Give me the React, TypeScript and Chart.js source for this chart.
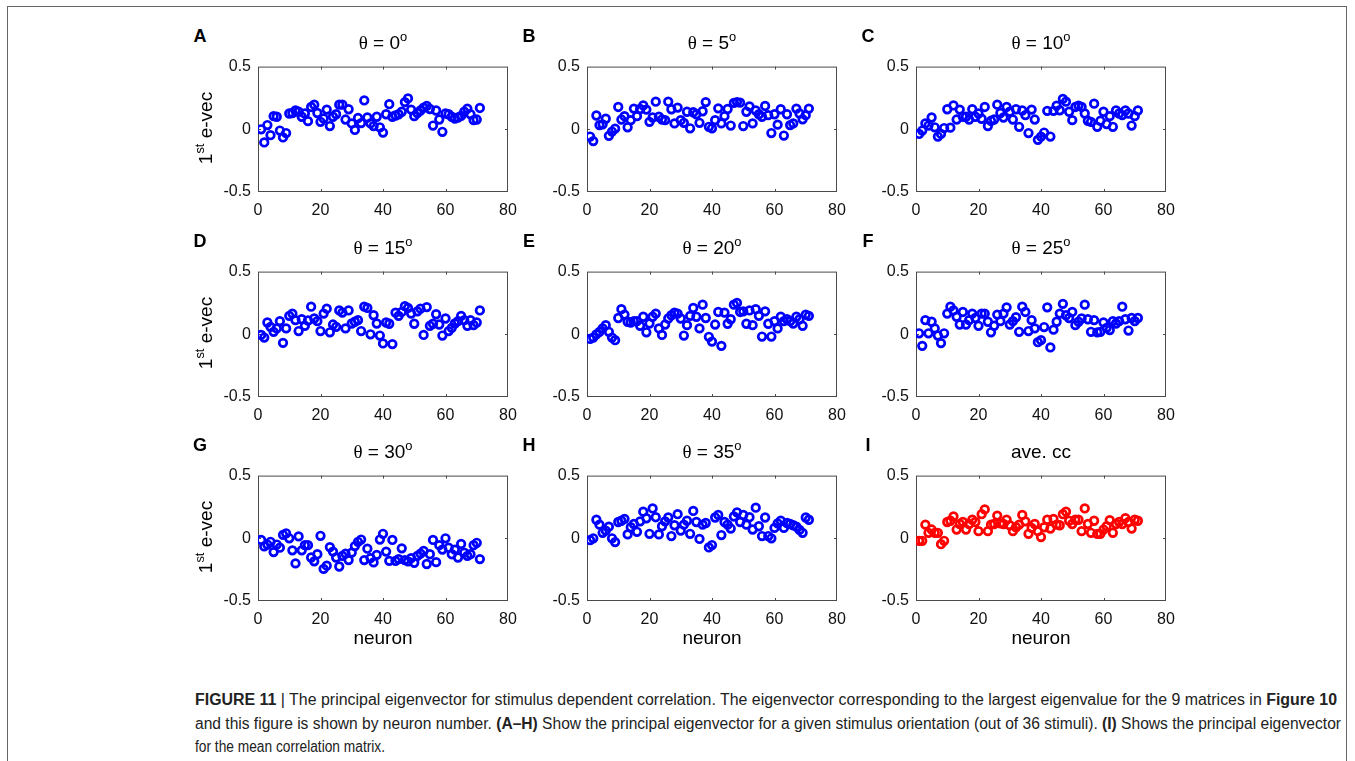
import React, { useEffect, useRef } from 'react';
import { Chart, registerables } from 'chart.js';

Chart.register(...registerables);

// ---- data -------------------------------------------------------------
const NEURONS = Array.from({ length: 71 }, (_, i) => i + 1);
const X_TICKS = [0, 20, 40, 60, 80];
const Y_TICKS = [-0.5, 0, 0.5];

const EVEC_THETA_0 = [
  0, -0.105, 0.034, -0.047, 0.105, 0.1, -0.01, -0.065, -0.03, 0.126,
  0.13, 0.15, 0.14, 0.1, 0.126, 0.065, 0.178, 0.196, 0.13, 0.06,
  0.086, 0.157, 0.026, 0.1, 0.12, 0.196, 0.196, 0.078, 0.16, 0.047,
  -0.005, 0.09, 0.05, 0.23, 0.094, 0.047, 0.026, 0.1, 0.016, -0.026,
  0.12, 0.2, 0.1, 0.11, 0.12, 0.14, 0.217, 0.246, 0.157, 0.105,
  0.13, 0.15, 0.173, 0.186, 0.162, 0.03, 0.15, 0.078, -0.02, 0.126,
  0.12, 0.1, 0.086, 0.094, 0.107, 0.14, 0.165, 0.12, 0.073, 0.078,
  0.17,
];
const EVEC_THETA_5 = [
  -0.058, -0.094, 0.11, 0.034, 0.04, 0.084, -0.052, -0.018, 0.005, 0.178,
  0.078, 0.105, 0.016, 0.073, 0.165, 0.105, 0.162, 0.19, 0.157, 0.06,
  0.094, 0.22, 0.1, 0.078, 0.073, 0.22, 0.16, 0.047, 0.173, 0.073,
  0.052, 0.14, 0.008, 0.136, 0.12, 0.052, 0.144, 0.217, 0.02, 0.008,
  0.073, 0.167, 0.047, 0.105, 0.162, 0.03, 0.21, 0.217, 0.212, 0.026,
  0.14, 0.183, 0.047, 0.15, 0.12, 0.1, 0.186, 0.113, -0.03, 0.12,
  0.037, 0.16, -0.05, 0.12, 0.034, 0.047, 0.165, 0.126, 0.08, 0.113,
  0.165,
];
const EVEC_THETA_10 = [
  -0.037, -0.01, 0.047, 0.03, 0.094, 0.016, -0.058, -0.037, 0.01, 0.16,
  0.013, 0.19, 0.078, 0.157, 0.1, 0.1, 0.078, 0.16, 0.1, 0.126,
  0.084, 0.178, 0.026, 0.068, 0.078, 0.196, 0.13, 0.094, 0.178, 0.14,
  0.078, 0.16, 0.02, 0.15, 0.113, -0.03, 0.157, 0.078, -0.084, -0.058,
  -0.026, 0.147, -0.058, 0.147, 0.188, 0.152, 0.243, 0.22, 0.14, 0.073,
  0.178, 0.188, 0.178, 0.126, 0.068, 0.06, 0.204, 0.02, 0.068, 0.14,
  0.042, 0.105, 0.02, 0.15, 0.126, 0.113, 0.15, 0.126, 0.03, 0.105,
  0.15,
];
const EVEC_THETA_15 = [
  -0.005, -0.026, 0.094, 0.06, 0.02, 0.047, 0.105, -0.068, 0.047, 0.147,
  0.165, 0.113, 0.026, 0.12, 0.068, 0.11, 0.22, 0.126, 0.105, 0.026,
  0.165, 0.204, 0.016, 0.078, 0.06, 0.19, 0.173, 0.047, 0.19, 0.086,
  0.1, 0.113, 0.026, 0.22, 0.21, 0, 0.152, 0.086, -0.01, -0.073,
  0.094, 0.084, -0.078, 0.173, 0.147, 0.178, 0.225, 0.21, 0.165, 0.084,
  0.183, 0.204, -0.005, 0.217, 0.068, 0.084, 0.16, 0.078, -0.01, 0.126,
  0.026, 0.052, 0.086, 0.105, 0.147, 0.113, 0.068, 0.113, 0.073, 0.094,
  0.19,
];
const EVEC_THETA_20 = [
  -0.037, -0.026, 0, 0.02, 0.047, 0.073, 0.02, -0.026, -0.047, 0.13,
  0.2, 0.157, 0.1, 0.094, 0.105, 0.105, 0.068, 0.14, 0.016, 0.086,
  0.14, 0.165, 0.047, -0.005, 0.078, 0.126, 0.152, 0.173, 0.165, 0.126,
  -0.01, 0.073, 0.147, 0.21, 0.14, 0.047, 0.236, 0.13, -0.02, -0.058,
  0.078, 0.178, -0.092, 0.173, 0.084, 0.12, 0.236, 0.25, 0.178, 0.183,
  0.084, 0.19, 0.073, 0.2, 0.147, -0.018, 0.183, 0.084, -0.018, 0.105,
  0.047, 0.14, 0.105, 0.12, 0.105, 0.086, 0.14, 0.12, 0.068, 0.157,
  0.147,
];
const EVEC_THETA_25 = [
  0.008, -0.092, 0.113, 0.008, 0.1, 0.047, -0.01, -0.07, 0.008, 0.165,
  0.22, 0.19, 0.14, 0.078, 0.178, 0.078, 0.113, 0.165, 0.13, 0.068,
  0.165, 0.165, 0.1, 0.016, 0.068, 0.157, 0.105, 0.165, 0.215, 0.078,
  0.105, 0.136, 0.02, 0.22, 0.178, 0.026, 0.113, 0.047, -0.063, -0.047,
  0.058, 0.215, -0.105, 0.037, 0.1, 0.165, 0.243, 0.152, 0.13, 0.178,
  0.073, 0.1, 0.126, 0.236, 0.12, 0.02, 0.113, 0.016, 0.02, 0.094,
  0.052, 0.034, 0.105, 0.086, 0.105, 0.22, 0.12, 0.03, 0.13, 0.105,
  0.13,
];
const EVEC_THETA_30 = [
  -0.013, -0.065, -0.05, -0.028, -0.11, -0.05, -0.075, 0.028, 0.04, 0,
  -0.096, -0.2, 0.015, -0.096, -0.055, -0.055, -0.153, -0.184, -0.127, 0.02,
  -0.244, -0.218, -0.07, -0.106, -0.153, -0.225, -0.14, -0.122, -0.174, -0.114,
  -0.062, -0.028, -0.01, -0.174, -0.083, -0.158, -0.192, -0.132, -0.01, 0.036,
  -0.106, -0.18, -0.013, -0.18, -0.166, -0.08, -0.174, -0.184, -0.158, -0.195,
  -0.14, -0.122, -0.1, -0.205, -0.127, -0.013, -0.19, -0.055, -0.09, 0,
  -0.075, -0.127, -0.09, -0.153, -0.045, -0.114, -0.14, -0.127, -0.055, -0.036,
  -0.166,
];
const EVEC_THETA_35 = [
  -0.015, 0, 0.148, 0.109, 0.044, 0.062, 0.093, 0, -0.03, 0.13,
  0.14, 0.155, 0.031, 0.088, 0.114, 0.052, 0.135, 0.212, 0.16, 0.036,
  0.238, 0.168, 0.031, 0.096, 0.135, 0.166, 0.018, 0.104, 0.192, 0.062,
  0.109, 0.14, 0.036, 0.218, 0.13, -0.005, 0.109, 0.122, -0.073, -0.054,
  0.166, 0.186, 0.026, 0.13, 0.109, 0.078, 0.174, 0.207, 0.13, 0.186,
  0.109, 0.168, 0.07, 0.244, 0.096, 0.018, 0.166, 0.018, 0, 0.083,
  0.119, 0.14, 0.083, 0.122, 0.114, 0.104, 0.093, 0.067, 0.044, 0.166,
  0.148,
];
const EVEC_MEAN_CC = [
  -0.02, -0.02, 0.109, 0.044, 0.07, 0.044, 0.044, -0.047, -0.02, 0.13,
  0.14, 0.174, 0.07, 0.114, 0.13, 0.07, 0.114, 0.148, 0.13, 0.057,
  0.192, 0.23, 0.057, 0.109, 0.114, 0.181, 0.119, 0.114, 0.148, 0.104,
  0.057, 0.088, 0.109, 0.186, 0.135, 0.036, 0.083, 0.114, 0.057, 0.01,
  0.088, 0.148, 0.078, 0.155, 0.109, 0.104, 0.192, 0.212, 0.14, 0.114,
  0.148, 0.148, 0.057, 0.238, 0.114, 0.044, 0.14, 0.036, 0.036, 0.07,
  0.096, 0.145, 0.044, 0.114, 0.13, 0.114, 0.161, 0.13, 0.078, 0.148,
  0.14,
];

const PANEL_LETTERS = ['A', 'B', 'C', 'D', 'E', 'F', 'G', 'H', 'I'];
const ORIENTATIONS = [0, 5, 10, 15, 20, 25, 30, 35];
const MEAN_TITLE = 'ave. cc';
const Y_LABEL_MAIN = '1';
const Y_LABEL_SUP = 'st';
const Y_LABEL_REST = ' e-vec';
const X_LABEL = 'neuron';

const PANEL_SERIES = [
  EVEC_THETA_0, EVEC_THETA_5, EVEC_THETA_10,
  EVEC_THETA_15, EVEC_THETA_20, EVEC_THETA_25,
  EVEC_THETA_30, EVEC_THETA_35, EVEC_MEAN_CC,
];

// ---- layout / style ---------------------------------------------------
const SANS = '"Liberation Sans", Arial, Helvetica, sans-serif';
const SERIF = '"Liberation Serif", "Times New Roman", serif';
const BLUE = '#0000ff';
const RED = '#ff0000';
const AXIS_COLOR = '#4a4a4a';

const COL_LEFT = [258, 587, 916];
const ROW_TOP = [64, 269, 473];
const LETTER_X = [200, 529, 868];
const PLOT_W = 250;
const PLOT_H = 128;
const PAD_L = 60;
const PAD_T = 14;
const PAD_R = 18;
const PAD_B = 30;
const CW = PLOT_W + PAD_L + PAD_R;
const CH = PLOT_H + PAD_T + PAD_B;
const TICK_LEN = 3;

// Box around the axes with inward tick marks on all four sides.
const boxPlugin = {
  id: 'boxAxes',
  beforeDatasetsDraw(chart: any) {
    const { ctx, chartArea: a, scales } = chart;
    const xs = scales.x;
    const ys = scales.y;
    ctx.save();
    ctx.strokeStyle = AXIS_COLOR;
    ctx.lineWidth = 1;
    ctx.strokeRect(a.left + 0.5, a.top + 0.5, a.right - a.left - 1, a.bottom - a.top - 1);
    ctx.beginPath();
    for (const t of xs.ticks) {
      if (t.value <= xs.min || t.value >= xs.max) continue;
      const px = Math.round(xs.getPixelForValue(t.value)) + 0.5;
      ctx.moveTo(px, a.bottom);
      ctx.lineTo(px, a.bottom - TICK_LEN);
      ctx.moveTo(px, a.top);
      ctx.lineTo(px, a.top + TICK_LEN);
    }
    for (const t of ys.ticks) {
      if (t.value <= ys.min || t.value >= ys.max) continue;
      const py = Math.round(ys.getPixelForValue(t.value)) + 0.5;
      ctx.moveTo(a.left, py);
      ctx.lineTo(a.left + TICK_LEN, py);
      ctx.moveTo(a.right, py);
      ctx.lineTo(a.right - TICK_LEN, py);
    }
    ctx.stroke();
    ctx.restore();
  },
};

function EigenPanel({ values, color, left, top }: { values: number[]; color: string; left: number; top: number }) {
  const ref = useRef<HTMLCanvasElement>(null);
  useEffect(() => {
    if (!ref.current) return;
    const tickFont = { family: SANS, size: 16 };
    const chart = new Chart(ref.current, {
      type: 'scatter',
      data: {
        datasets: [
          {
            data: NEURONS.map((n, i) => ({ x: n, y: values[i] })),
            pointStyle: 'circle',
            pointRadius: 3.8,
            pointHoverRadius: 3.8,
            borderWidth: 2.7,
            borderColor: color,
            backgroundColor: 'rgba(0,0,0,0)',
            showLine: false,
          },
        ],
      },
      options: {
        responsive: false,
        animation: false,
        events: [],
        layout: { padding: { left: 0, top: PAD_T, right: PAD_R, bottom: 0 } },
        plugins: { legend: { display: false }, tooltip: { enabled: false }, title: { display: false } },
        scales: {
          x: {
            type: 'linear',
            min: X_TICKS[0],
            max: X_TICKS[X_TICKS.length - 1],
            afterBuildTicks: (s: any) => {
              s.ticks = X_TICKS.map((v) => ({ value: v }));
            },
            afterFit: (s: any) => {
              s.height = PAD_B;
            },
            grid: { display: false, drawTicks: false },
            border: { display: false },
            ticks: { padding: 9, color: '#111', font: tickFont, maxRotation: 0, autoSkip: false },
          },
          y: {
            type: 'linear',
            min: Y_TICKS[0],
            max: Y_TICKS[Y_TICKS.length - 1],
            afterBuildTicks: (s: any) => {
              s.ticks = Y_TICKS.map((v) => ({ value: v }));
            },
            afterFit: (s: any) => {
              s.width = PAD_L;
            },
            grid: { display: false, drawTicks: false },
            border: { display: false },
            ticks: { padding: 7, color: '#111', font: tickFont, autoSkip: false },
          },
        },
      },
      plugins: [boxPlugin],
    } as any);
    return () => chart.destroy();
  }, [values, color]);
  return (
    <canvas
      ref={ref}
      width={CW}
      height={CH}
      style={{ position: 'absolute', left: left - PAD_L, top: top - PAD_T, width: CW, height: CH }}
    />
  );
}

function Sup({ children }: { children: React.ReactNode }) {
  return (
    <span style={{ fontSize: '0.68em', position: 'relative', top: '-0.62em', lineHeight: 0 }}>{children}</span>
  );
}

const abs = (left: number, top: number, extra: React.CSSProperties = {}): React.CSSProperties => ({
  position: 'absolute',
  left,
  top,
  whiteSpace: 'nowrap',
  ...extra,
});

export default function App() {
  const panels = PANEL_SERIES.map((values, idx) => {
    const row = Math.floor(idx / 3);
    const col = idx % 3;
    const left = COL_LEFT[col];
    const top = ROW_TOP[row];
    const isMean = idx === 8;
    const title = isMean ? (
      <span>{MEAN_TITLE}</span>
    ) : (
      <span>
        <span style={{ fontFamily: SERIF }}>θ</span>
        {' = '}
        {ORIENTATIONS[idx]}
        <Sup>o</Sup>
      </span>
    );
    return (
      <React.Fragment key={idx}>
        <EigenPanel values={values} color={isMean ? RED : BLUE} left={left} top={top} />
        <div
          style={abs(LETTER_X[col] - 20, top - 37, {
            width: 40,
            textAlign: 'center',
            fontFamily: SANS,
            fontWeight: 'bold',
            fontSize: 18,
            lineHeight: '18px',
            color: '#000',
          })}
        >
          {PANEL_LETTERS[idx]}
        </div>
        <div
          style={abs(left, top - 31, {
            width: PLOT_W,
            textAlign: 'center',
            fontFamily: SANS,
            fontSize: 19,
            lineHeight: '19px',
            color: '#000',
          })}
        >
          {title}
        </div>
        {col === 0 && (
          <div
            style={abs(206 - 100, top + PLOT_H / 2 - 10, {
              width: 200,
              textAlign: 'center',
              fontFamily: SANS,
              fontSize: 19,
              lineHeight: '20px',
              color: '#000',
              transform: 'rotate(-90deg)',
              transformOrigin: '50% 50%',
            })}
          >
            {Y_LABEL_MAIN}
            <Sup>{Y_LABEL_SUP}</Sup>
            {Y_LABEL_REST}
          </div>
        )}
        {row === 2 && (
          <div
            style={abs(left, top + PLOT_H + 27, {
              width: PLOT_W,
              textAlign: 'center',
              fontFamily: SANS,
              fontSize: 19,
              lineHeight: '20px',
              color: '#000',
            })}
          >
            {X_LABEL}
          </div>
        )}
      </React.Fragment>
    );
  });

  return (
    <div
      style={{
        position: 'absolute',
        left: 0,
        top: 0,
        width: 1355,
        height: 761,
        overflow: 'hidden',
        background: '#fff',
      }}
    >
      <div
        style={{
          position: 'absolute',
          left: 7,
          top: 6,
          width: 1340,
          height: 820,
          border: '1px solid #666',
          boxSizing: 'border-box',
        }}
      />
      {panels}
      <svg
        width={1355}
        height={100}
        style={{ position: 'absolute', left: 0, top: 670 }}
        fontFamily={SANS}
        fontSize={16}
        fill="#222"
      >
        <text x={195} y={35} textLength={1142} lengthAdjust="spacingAndGlyphs">
          <tspan fontWeight="bold">FIGURE 11</tspan>
          {' | The principal eigenvector for stimulus dependent correlation. The eigenvector corresponding to the largest eigenvalue for the 9 matrices in '}
          <tspan fontWeight="bold">Figure 10</tspan>
        </text>
        <text x={195} y={59} textLength={1146} lengthAdjust="spacingAndGlyphs">
          {'and this figure is shown by neuron number. '}
          <tspan fontWeight="bold">(A–H)</tspan>
          {' Show the principal eigenvector for a given stimulus orientation (out of 36 stimuli). '}
          <tspan fontWeight="bold">(I)</tspan>
          {' Shows the principal eigenvector'}
        </text>
        <text x={195} y={82} textLength={190} lengthAdjust="spacingAndGlyphs">
          {'for the mean correlation matrix.'}
        </text>
      </svg>
    </div>
  );
}
